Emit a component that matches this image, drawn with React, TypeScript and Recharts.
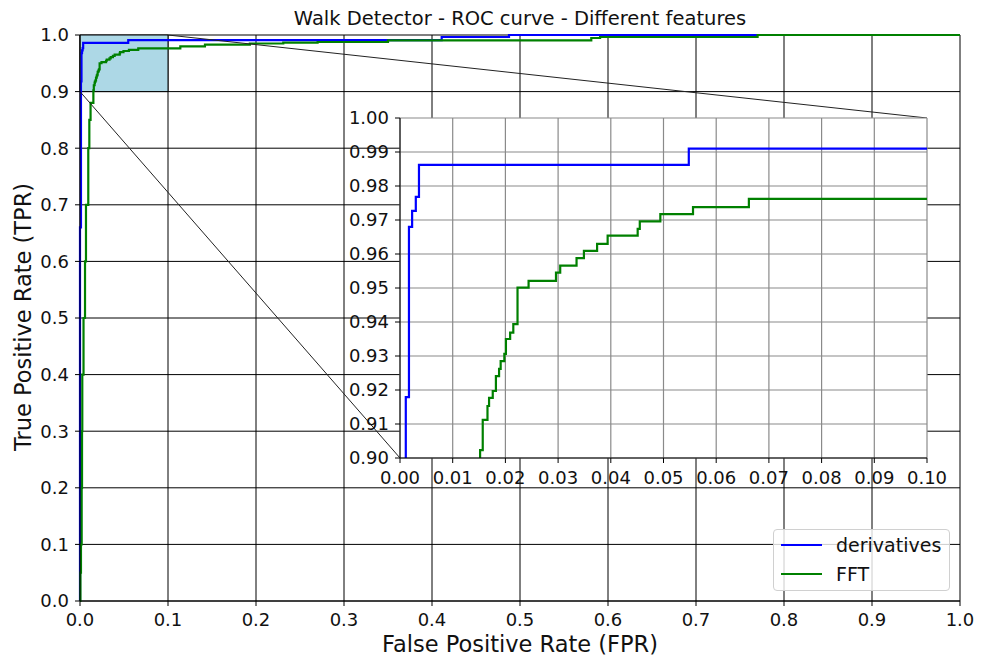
import React from 'react';
import {
  LineChart,
  Line,
  XAxis,
  YAxis,
  CartesianGrid,
  ReferenceArea,
  ReferenceLine,
} from 'recharts';

// ROC points (false positive rate / true positive rate) per feature set
const derivativesFpr = [0, 0, 0.0011, 0.0017, 0.0023, 0.003, 0.0036, 0.0548, 0.411, 0.4875, 1.0];
const derivativesTpr = [0, 0.66, 0.9179, 0.968, 0.9727, 0.9768, 0.9862, 0.991, 0.9965, 1.0, 1.0];

const fftFpr = [
  0, 0.0005, 0.0011, 0.0019, 0.0023, 0.0026, 0.004, 0.0057, 0.0068, 0.0094, 0.0106, 0.012,
  0.0152, 0.0157, 0.0166, 0.0169, 0.0176, 0.0182, 0.0188, 0.0191, 0.0198, 0.0201, 0.0209,
  0.0215, 0.0223, 0.0244, 0.0296, 0.0304, 0.0335, 0.0349, 0.0374, 0.0394, 0.0451, 0.0455,
  0.0494, 0.0556, 0.0662, 0.114, 0.142, 0.193, 0.231, 0.27, 0.35, 0.581, 0.591, 0.77, 1.0,
];
const fftTpr = [
  0, 0.05, 0.1, 0.2, 0.3, 0.4, 0.5, 0.6, 0.7, 0.8, 0.85, 0.88,
  0.9023, 0.9112, 0.9153, 0.9177, 0.9197, 0.9241, 0.9262, 0.9285, 0.9306, 0.935, 0.9369,
  0.9394, 0.9501, 0.9521, 0.9545, 0.9566, 0.9588, 0.9609, 0.963, 0.9654, 0.9674, 0.9696,
  0.9717, 0.9738, 0.9762, 0.98, 0.983, 0.985, 0.9865, 0.9876, 0.9905, 0.9947, 0.9965, 1.0, 1.0,
];

const mainTicks = [0, 0.1, 0.2, 0.3, 0.4, 0.5, 0.6, 0.7, 0.8, 0.9, 1.0];
const insetXTicks = [0, 0.01, 0.02, 0.03, 0.04, 0.05, 0.06, 0.07, 0.08, 0.09, 0.1];
const insetYTicks = [0.9, 0.91, 0.92, 0.93, 0.94, 0.95, 0.96, 0.97, 0.98, 0.99, 1.0];

// zoomed region
const zoomX = [0, 0.1];
const zoomY = [0.9, 1.0];

const series = [
  { name: 'derivatives', color: '#0000ff' },
  { name: 'FFT', color: '#008000' },
];

const toPoints = (xs: number[], ys: number[]) => xs.map((fpr, i) => ({ fpr, tpr: ys[i] }));
const derivatives = toPoints(derivativesFpr, derivativesTpr);
const fft = toPoints(fftFpr, fftTpr);

const FONT = '"DejaVu Sans", sans-serif';
const W = 981;
const H = 658;
const MAIN = { left: 80, top: 35, width: 880, height: 566 };
const INSET = { left: 400, top: 118, width: 527, height: 340 };
const AXIS_W = 60;
const AXIS_H = 40;
const INSET_MARGIN = { top: 10, right: 30, bottom: 10, left: 10 };

// pixel -> main data coordinates, for the connector lines to the inset corners
const toMainX = (px: number) => (px - MAIN.left) / MAIN.width;
const toMainY = (py: number) => 1 - (py - MAIN.top) / MAIN.height;

const tickStyle = { fontSize: 18, fill: '#111', fontFamily: FONT };

const renderLines = () => [
  <Line key="d" data={derivatives} dataKey="tpr" name="derivatives" type="stepAfter" stroke={series[0].color} strokeWidth={2.2} dot={false} isAnimationActive={false} />,
  <Line key="f" data={fft} dataKey="tpr" name="FFT" type="stepAfter" stroke={series[1].color} strokeWidth={2.2} dot={false} isAnimationActive={false} />,
];

export default function App() {
  return (
    <div style={{ position: 'absolute', left: 0, top: 0, width: W, height: H, background: '#fff', fontFamily: FONT }}>
      <div style={{ position: 'absolute', left: MAIN.left, width: MAIN.width, top: 7, textAlign: 'center', fontSize: 19.5, color: '#111' }}>
        Walk Detector - ROC curve - Different features
      </div>

      <LineChart
        width={W}
        height={H}
        margin={{
          top: MAIN.top,
          right: W - MAIN.left - MAIN.width,
          bottom: H - MAIN.top - MAIN.height - AXIS_H,
          left: MAIN.left - AXIS_W,
        }}
        style={{ position: 'absolute', left: 0, top: 0 }}
      >
        <CartesianGrid stroke="#000" strokeWidth={1} />
        <XAxis
          type="number"
          dataKey="fpr"
          domain={[0, 1]}
          ticks={mainTicks}
          tickFormatter={(v: number) => v.toFixed(1)}
          height={AXIS_H}
          tickSize={5}
          tickMargin={7}
          stroke="#000"
          tick={tickStyle}
          interval={0}
        />
        <YAxis
          type="number"
          dataKey="tpr"
          domain={[0, 1]}
          ticks={mainTicks}
          tickFormatter={(v: number) => v.toFixed(1)}
          width={AXIS_W}
          tickSize={5}
          tickMargin={6}
          stroke="#000"
          tick={tickStyle}
          interval={0}
        />
        <XAxis xAxisId="top" orientation="top" type="number" domain={[0, 1]} height={0} tick={false} tickLine={false} stroke="#000" />
        <YAxis yAxisId="right" orientation="right" type="number" domain={[0, 1]} width={0} tick={false} tickLine={false} stroke="#000" />
        <ReferenceArea x1={zoomX[0]} x2={zoomX[1]} y1={zoomY[0]} y2={zoomY[1]} fill="#add8e6" fillOpacity={1} stroke="#000" strokeWidth={1} />
        {renderLines()}
        <ReferenceLine
          segment={[
            { x: zoomX[0], y: zoomY[0] },
            { x: toMainX(INSET.left), y: toMainY(INSET.top + INSET.height) },
          ]}
          stroke="#222"
          strokeWidth={1}
        />
        <ReferenceLine
          segment={[
            { x: zoomX[1], y: zoomY[1] },
            { x: toMainX(INSET.left + INSET.width), y: toMainY(INSET.top) },
          ]}
          stroke="#222"
          strokeWidth={1}
        />
      </LineChart>

      <LineChart
        width={INSET.width + AXIS_W + INSET_MARGIN.left + INSET_MARGIN.right}
        height={INSET.height + AXIS_H + INSET_MARGIN.top + INSET_MARGIN.bottom}
        margin={INSET_MARGIN}
        style={{ position: 'absolute', left: INSET.left - AXIS_W - INSET_MARGIN.left, top: INSET.top - INSET_MARGIN.top }}
      >
        <CartesianGrid stroke="#8a8a8a" strokeWidth={1.2} fill="#fff" fillOpacity={1} />
        <XAxis
          type="number"
          dataKey="fpr"
          domain={zoomX}
          allowDataOverflow
          ticks={insetXTicks}
          tickFormatter={(v: number) => v.toFixed(2)}
          height={AXIS_H}
          tickSize={5}
          tickMargin={8}
          stroke="#000"
          tick={tickStyle}
          interval={0}
        />
        <YAxis
          type="number"
          dataKey="tpr"
          domain={zoomY}
          allowDataOverflow
          ticks={insetYTicks}
          tickFormatter={(v: number) => v.toFixed(2)}
          width={AXIS_W}
          tickSize={5}
          tickMargin={6}
          stroke="#000"
          tick={tickStyle}
          interval={0}
        />
        <XAxis xAxisId="top" orientation="top" type="number" domain={zoomX} height={0} tick={false} tickLine={false} stroke="#000" />
        <YAxis yAxisId="right" orientation="right" type="number" domain={zoomY} width={0} tick={false} tickLine={false} stroke="#000" />
        {renderLines()}
      </LineChart>

      {/* legend */}
      <div
        style={{
          position: 'absolute',
          left: 773,
          top: 529,
          width: 175,
          height: 60,
          border: '1px solid #d0d0d0',
          borderRadius: 4,
          background: 'rgba(255,255,255,0.8)',
          fontSize: 19,
          color: '#111',
        }}
      >
        {series.map((s, i) => (
          <div key={s.name} style={{ position: 'absolute', left: 7, top: 3 + i * 28.5, height: 24, display: 'flex', alignItems: 'center' }}>
            <div style={{ width: 41, height: 2, background: s.color }} />
            <span style={{ marginLeft: 14 }}>{s.name}</span>
          </div>
        ))}
      </div>

      <div style={{ position: 'absolute', left: MAIN.left, width: MAIN.width, top: 631, textAlign: 'center', fontSize: 22.5, color: '#111' }}>
        False Positive Rate (FPR)
      </div>
      <div
        style={{
          position: 'absolute',
          left: 22.5,
          top: 316.5,
          transform: 'translate(-50%, -50%) rotate(-90deg)',
          whiteSpace: 'nowrap',
          fontSize: 22.5,
          color: '#111',
        }}
      >
        True Positive Rate (TPR)
      </div>
    </div>
  );
}
